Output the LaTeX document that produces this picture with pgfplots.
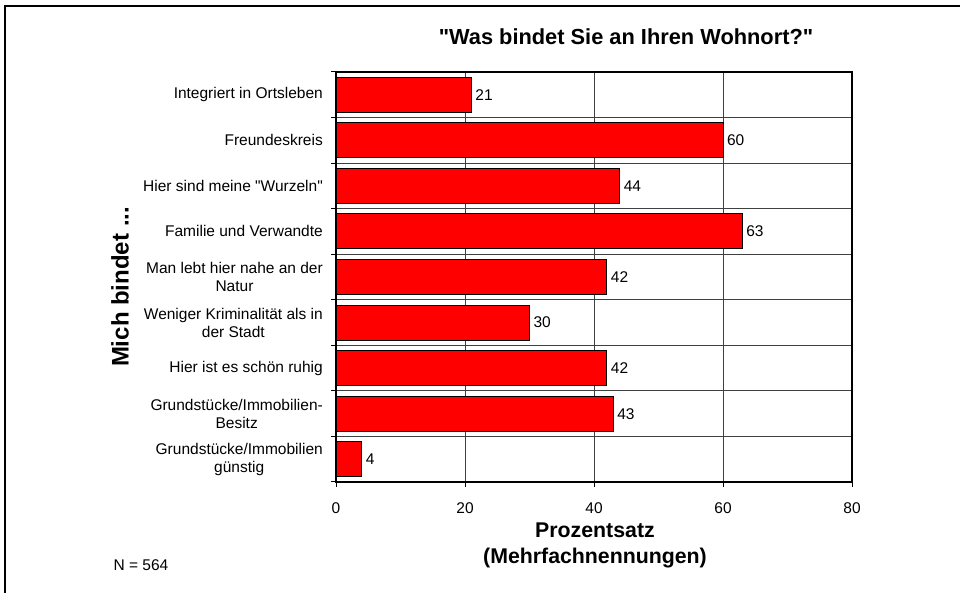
\documentclass[border=0pt]{standalone}
\usepackage{pgfplots}
\pgfplotsset{compat=1.18}
\usepackage{fontspec}
\setmainfont{Liberation Sans}
\newcommand\catfont{\fontsize{15.5bp}{18bp}\selectfont}
\newcommand\boldfont{\fontsize{21.3bp}{26bp}\selectfont\bfseries}
\begin{document}
\begin{tikzpicture}[x=1bp,y=1bp]
\path[use as bounding box] (0,0) rectangle (960,593);
\draw[line width=2bp] (5,0) -- (5,587) -- (960,587);
\begin{axis}[
  at={(336bp,111bp)}, anchor=south west,
  scale only axis, width=516bp, height=410bp,
  xbar, bar width=35bp,
  xmin=0, xmax=80, ymin=-0.5, ymax=8.5,
  y dir=reverse,
  xtick={0,20,40,60,80},
  ytick={-0.5,0.5,1.5,2.5,3.5,4.5,5.5,6.5,7.5,8.5},
  yticklabels={,,,,,,,,,},
  tick pos=left, tick align=outside,
  major tick length=5bp,
  grid=major,
  major grid style={black!75, line width=0.8bp},
  axis line style={line width=1.2bp},
  tick style={black, line width=1bp},
  /pgf/number format/assume math mode=true,
  ticklabel style={font=\catfont},
  xticklabel style={yshift=-12bp},
  extra y ticks={0,1,2,3,4,5,6,7,8},
  extra y tick labels={{Integriert in Ortsleben},{Freundeskreis},{Hier sind meine \textquotedbl Wurzeln\textquotedbl},{Familie und Verwandte},{Man lebt hier nahe an der\\Natur},{Weniger Kriminalität als in\\der Stadt},{Hier ist es schön ruhig},{Grundstücke/Immobilien-\\Besitz},{Grundstücke/Immobilien\\günstig}},
  extra y tick style={major tick length=0pt, grid=none, yticklabel style={align=center, inner sep=0pt, xshift=-13bp, font=\catfont}},
  nodes near coords,
  nodes near coords style={font=\catfont, inner sep=3.5bp, anchor=west},
  clip=false,
]
\addplot[fill=red, draw=black, line width=1bp] coordinates {
  (21,0) (60,1) (44,2) (63,3) (42,4) (30,5) (42,6) (43,7) (4,8)
};
\end{axis}
\node[font=\fontsize{21.8bp}{26bp}\selectfont\bfseries] at (626,556) {\textquotedbl Was bindet Sie an Ihren Wohnort?\textquotedbl};
\node[font=\boldfont, align=center] at (595,48) {Prozentsatz\\(Mehrfachnennungen)};
\node[font=\fontsize{24bp}{26bp}\selectfont\bfseries, rotate=90] at (120,306) {Mich bindet ...};
\node[font=\fontsize{15.5bp}{18bp}\selectfont] at (141,28) {N = 564};
\end{tikzpicture}
\end{document}
